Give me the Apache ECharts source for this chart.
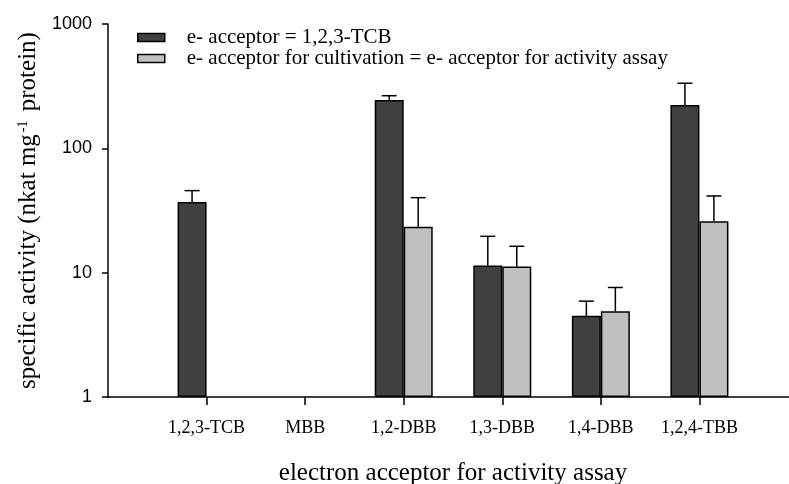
<!DOCTYPE html>
<html>
<head>
<meta charset="utf-8">
<script src="https://cdn.jsdelivr.net/npm/echarts@6/dist/echarts.min.js"></script>
<style>
  html, body { margin: 0; padding: 0; background: #fff; }
  #chart { width: 789px; height: 484px; }
</style>
</head>
<body>
<div id="chart"></div>
<script>
// Electron acceptors tested in the activity assay (x positions 1..6)
const categories = ['1,2,3-TCB', 'MBB', '1,2-DBB', '1,3-DBB', '1,4-DBB', '1,2,4-TBB'];

// Specific activity (nkat mg-1 protein), cells grown on 1,2,3-TCB
const tcbGrownMean = [37, null, 245, 11.4, 4.5, 223];
const tcbGrownSd   = [8.7, null, 20, 8.2, 1.4, 111];

// Specific activity, cells grown on the same acceptor as used in the assay
const sameGrownMean = [null, null, 23.4, 11.2, 4.9, 25.9];
const sameGrownSd   = [null, null, 16.7, 5.1, 2.7, 15.5];

const seriesNames = [
  'e- acceptor = 1,2,3-TCB',
  'e- acceptor for cultivation = e- acceptor for activity assay'
];

const yTicks = [1, 10, 100, 1000];

const BAR_W = 29;
const serif = '"Liberation Serif", "Times New Roman", serif';
const sans = '"Liberation Sans", Arial, sans-serif';

function barData(means) {
  return means.map((v, i) => [i + 1, v]);
}
function errData(means, sds) {
  return means.map((v, i) => [i + 1, v, sds[i]]).filter(d => d[1] != null);
}

// Upper-only error bar with a cap, drawn over the left (-1) or right (+1) bar
function errorRenderer(side) {
  return function (params, api) {
    const x = api.value(0), y = api.value(1), e = api.value(2);
    const base = api.coord([x, y]);
    const top = api.coord([x, y + e]);
    const cx = base[0] + side * BAR_W / 2;
    const cap = 7.5;
    return {
      type: 'group',
      children: [
        { type: 'line', shape: { x1: cx, y1: base[1], x2: cx, y2: top[1] },
          style: { stroke: '#000', lineWidth: 1.5 } },
        { type: 'line', shape: { x1: cx - cap, y1: top[1], x2: cx + cap, y2: top[1] },
          style: { stroke: '#000', lineWidth: 1.5 } }
      ]
    };
  };
}

const chart = echarts.init(document.getElementById('chart'), null, { renderer: 'canvas' });

chart.setOption({
  animation: false,
  backgroundColor: '#fff',
  grid: { left: 108, top: 24, width: 690, bottom: 87, outerBoundsMode: 'none', containLabel: false },
  legend: {
    orient: 'vertical',
    left: 137,
    top: 27,
    padding: 0,
    itemWidth: 27,
    itemHeight: 8,
    itemGap: 0,
    icon: 'rect',
    data: seriesNames,
    textStyle: { fontFamily: serif, fontSize: 21, color: '#000', padding: [0, 0, 0, 17] },
    itemStyle: { borderColor: '#000', borderWidth: 1.5 }
  },
  xAxis: {
    type: 'value',
    min: 0,
    max: 7,
    interval: 1,
    splitLine: { show: false },
    axisLine: { show: true, lineStyle: { color: '#000', width: 1.5 } },
    axisTick: {
      show: true, length: 8, inside: false,
      customValues: categories.map((c, i) => i + 1),
      lineStyle: { color: '#000', width: 1.5 }
    },
    axisLabel: {
      customValues: categories.map((c, i) => i + 1),
      formatter: v => categories[Math.round(v) - 1] || '',
      fontFamily: serif, fontSize: 18, color: '#000', margin: 22
    },
    name: 'electron acceptor for activity assay',
    nameLocation: 'middle',
    nameGap: 64,
    nameTextStyle: { fontFamily: serif, fontSize: 25, color: '#000' }
  },
  yAxis: {
    type: 'log',
    logBase: 10,
    min: yTicks[0],
    max: yTicks[yTicks.length - 1],
    splitLine: { show: false },
    minorTick: { show: false },
    axisLine: { show: true, lineStyle: { color: '#000', width: 1.5 } },
    axisTick: { show: true, length: 6, lineStyle: { color: '#000', width: 1.5 } },
    axisLabel: { fontFamily: sans, fontSize: 18, color: '#000', margin: 16, formatter: v => String(v) },
    name: '{a|specific activity (nkat mg}{s|-1}{a| protein)}',
    nameLocation: 'middle',
    nameGap: 62,
    nameTextStyle: {
      rich: {
        a: { fontFamily: serif, fontSize: 25, color: '#000', lineHeight: 28, verticalAlign: 'bottom' },
        s: { fontFamily: serif, fontSize: 14, color: '#000', lineHeight: 14, verticalAlign: 'bottom', padding: [0, 3, 11, 2] }
      }
    }
  },
  series: [
    {
      name: seriesNames[0],
      type: 'bar',
      data: barData(tcbGrownMean),
      barWidth: BAR_W,
      barGap: '0%',
      itemStyle: { color: '#404040', borderColor: '#000', borderWidth: 1.5 }
    },
    {
      name: seriesNames[1],
      type: 'bar',
      data: barData(sameGrownMean),
      barWidth: BAR_W,
      barGap: '0%',
      itemStyle: { color: '#c0c0c0', borderColor: '#000', borderWidth: 1.5 }
    },
    {
      type: 'custom',
      name: 'err-dark',
      renderItem: errorRenderer(-1),
      data: errData(tcbGrownMean, tcbGrownSd),
      encode: { x: 0, y: 1 },
      z: 1
    },
    {
      type: 'custom',
      name: 'err-light',
      renderItem: errorRenderer(1),
      data: errData(sameGrownMean, sameGrownSd),
      encode: { x: 0, y: 1 },
      z: 1
    }
  ]
});
</script>
</body>
</html>
